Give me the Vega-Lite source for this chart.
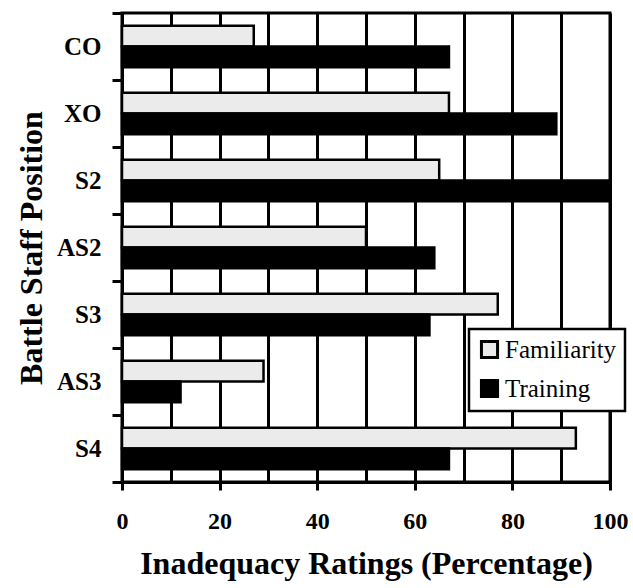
{
  "$schema": "https://vega.github.io/schema/vega-lite/v6.json",
  "autosize": "none",
  "width": 488,
  "height": 469,
  "padding": {"left": 122, "top": 13, "right": 23, "bottom": 106},
  "background": "white",
  "config": {"view": {"stroke": "black", "strokeWidth": 3}, "font": "Liberation Serif"},
  "data": {
    "values": [
      {"position": "CO", "series": "Familiarity", "value": 27},
      {"position": "CO", "series": "Training", "value": 67},
      {"position": "XO", "series": "Familiarity", "value": 67},
      {"position": "XO", "series": "Training", "value": 89},
      {"position": "S2", "series": "Familiarity", "value": 65},
      {"position": "S2", "series": "Training", "value": 100},
      {"position": "AS2", "series": "Familiarity", "value": 50},
      {"position": "AS2", "series": "Training", "value": 64},
      {"position": "S3", "series": "Familiarity", "value": 77},
      {"position": "S3", "series": "Training", "value": 63},
      {"position": "AS3", "series": "Familiarity", "value": 29},
      {"position": "AS3", "series": "Training", "value": 12},
      {"position": "S4", "series": "Familiarity", "value": 93},
      {"position": "S4", "series": "Training", "value": 67}
    ]
  },
  "mark": {"type": "bar", "stroke": "black", "strokeWidth": 2.5},
  "encoding": {
    "y": {
      "field": "position",
      "type": "nominal",
      "sort": ["CO", "XO", "S2", "AS2", "S3", "AS3", "S4"],
      "scale": {"paddingInner": 0, "paddingOuter": 0},
      "axis": {
        "title": "Battle Staff Position",
        "tickBand": "extent",
        "grid": false,
        "domainColor": "black",
        "domainWidth": 3,
        "tickColor": "black",
        "tickWidth": 3,
        "tickSize": 10,
        "labelFont": "Liberation Serif",
        "labelFontWeight": "bold",
        "labelFontSize": 25,
        "labelColor": "black",
        "labelPadding": 11,
        "titleFont": "Liberation Serif",
        "titleFontWeight": "bold",
        "titleFontSize": 32,
        "titleColor": "black",
        "titlePadding": 8
      }
    },
    "yOffset": {
      "field": "series",
      "sort": ["Familiarity", "Training"],
      "scale": {"paddingInner": 0, "paddingOuter": 0.62}
    },
    "x": {
      "field": "value",
      "type": "quantitative",
      "scale": {"domain": [0, 100], "nice": false},
      "axis": {
        "values": [0, 10, 20, 30, 40, 50, 60, 70, 80, 90, 100],
        "grid": true,
        "gridColor": "black",
        "gridWidth": 3,
        "gridOpacity": 1,
        "labelExpr": "datum.value % 20 == 0 ? datum.label : ''",
        "tickOpacity": {"condition": {"test": "datum.value % 20 != 0", "value": 0}, "value": 1},
        "tickSize": 8,
        "tickWidth": 3,
        "tickColor": "black",
        "domainWidth": 3,
        "domainColor": "black",
        "labelFont": "Liberation Serif",
        "labelFontSize": 24,
        "labelFontWeight": "bold",
        "labelColor": "black",
        "labelPadding": 19,
        "labelFlush": false,
        "title": "Inadequacy Ratings (Percentage)",
        "titleFont": "Liberation Serif",
        "titleFontSize": 32,
        "titleFontWeight": "bold",
        "titleColor": "black",
        "titlePadding": 15
      }
    },
    "color": {
      "field": "series",
      "type": "nominal",
      "scale": {"domain": ["Familiarity", "Training"], "range": ["#ebebeb", "black"]},
      "legend": {
        "title": null,
        "orient": "none",
        "legendX": 347,
        "legendY": 316,
        "strokeColor": "black",
        "fillColor": "white",
        "padding": 8,
        "symbolType": "square",
        "symbolSize": 260,
        "symbolStrokeColor": "black",
        "symbolStrokeWidth": 3,
        "symbolOpacity": 1,
        "labelFont": "Liberation Serif",
        "labelFontSize": 25,
        "labelColor": "black",
        "labelOffset": 3,
        "rowPadding": 10,
        "encode": {
          "legend": {"update": {"strokeWidth": {"value": 2.5}}},
          "symbols": {
            "update": {
              "stroke": {"value": "black"},
              "strokeWidth": {"value": 3},
              "opacity": {"value": 1}
            }
          }
        }
      }
    }
  }
}
